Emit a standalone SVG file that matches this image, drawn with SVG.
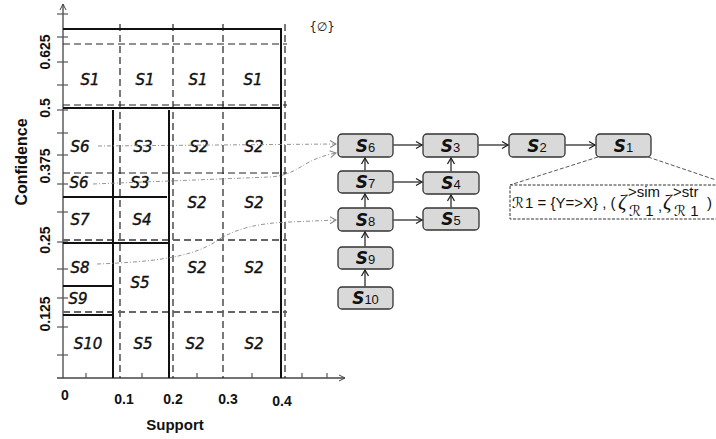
<svg xmlns="http://www.w3.org/2000/svg" width="716" height="439" viewBox="0 0 716 439">
  <style>
    .axis { stroke: #444; stroke-width: 1.3; fill: none; }
    .tick { stroke: #555; stroke-width: 1.2; }
    .solid { stroke: #111; stroke-width: 2; fill: none; }
    .dash { stroke: #222; stroke-width: 1.2; stroke-dasharray: 7 4; fill: none; }
    .dashg { stroke: #666; stroke-width: 1.8; stroke-dasharray: 7 4; fill: none; }
    .lbl { font-family: "Liberation Sans", Arial, sans-serif; font-weight: bold; fill: #111; }
    .cell { font-family: "DejaVu Sans", sans-serif; font-style: oblique; font-size: 15px; fill: #111; stroke: #111; stroke-width: 0.4; text-anchor: middle; }
    .node rect { fill: #d9d9d9; stroke: #333; stroke-width: 1.3; }
    .big { font-family: "DejaVu Sans", sans-serif; font-style: oblique; font-weight: bold; font-size: 17px; fill: #111; }
    .sub { font-family: "Liberation Sans", Arial, sans-serif; font-size: 13px; fill: #111; }
    .edge { stroke: #555; stroke-width: 1.6; fill: none; marker-end: url(#arr); }
    .dot { stroke: #888; stroke-width: 0.9; stroke-dasharray: 4 2 1 2; fill: none; marker-end: url(#arrg); }
    .math { font-family: "Liberation Sans", Arial, sans-serif; font-size: 15px; fill: #111; }
    .scr { font-family: "DejaVu Sans", sans-serif; font-style: oblique; }
    .zeta { font-family: "Liberation Serif", serif; font-style: italic; font-size: 21px; fill: #111; }
  </style>
  <defs>
    <marker id="arr" markerWidth="10" markerHeight="10" refX="8" refY="5" orient="auto" markerUnits="userSpaceOnUse">
      <path d="M2,1.5 L8,5 L2,8.5" fill="none" stroke="#222" stroke-width="1.3"/>
    </marker>
    <marker id="arrg" markerWidth="10" markerHeight="10" refX="8" refY="5" orient="auto" markerUnits="userSpaceOnUse">
      <path d="M2,1.5 L8,5 L2,8.5" fill="none" stroke="#888" stroke-width="1"/>
    </marker>
    <marker id="arrax" markerWidth="10" markerHeight="10" refX="8" refY="5" orient="auto" markerUnits="userSpaceOnUse">
      <path d="M2,2 L8,5 L2,8" fill="none" stroke="#444" stroke-width="1"/>
    </marker>
  </defs>

  <!-- axes -->
  <g id="axes">
    <line class="axis" x1="63" y1="378" x2="63" y2="4" marker-end="url(#arrax)"/>
    <line class="axis" x1="57" y1="378" x2="345" y2="378" marker-end="url(#arrax)"/>
    <g class="tick">
      <line x1="57" y1="14" x2="68" y2="14"/>
      <line x1="57" y1="37" x2="68" y2="37"/>
      <line x1="57" y1="62" x2="68" y2="62"/>
      <line x1="57" y1="85" x2="68" y2="85"/>
      <line x1="57" y1="110" x2="68" y2="110"/>
      <line x1="57" y1="133" x2="68" y2="133"/>
      <line x1="57" y1="155" x2="68" y2="155"/>
      <line x1="57" y1="184" x2="68" y2="184"/>
      <line x1="57" y1="212" x2="68" y2="212"/>
      <line x1="57" y1="242" x2="68" y2="242"/>
      <line x1="57" y1="269" x2="68" y2="269"/>
      <line x1="57" y1="298" x2="68" y2="298"/>
      <line x1="57" y1="327" x2="68" y2="327"/>
      <line x1="57" y1="355" x2="68" y2="355"/>
      <line x1="86" y1="373" x2="86" y2="378"/>
      <line x1="142" y1="373" x2="142" y2="378"/>
      <line x1="197" y1="373" x2="197" y2="378"/>
      <line x1="252" y1="373" x2="252" y2="378"/>
      <line x1="302" y1="373" x2="302" y2="378"/>
      <line x1="327" y1="373" x2="327" y2="378"/>
    </g>
    <text class="lbl" font-size="14" transform="translate(50,52) rotate(-90)" text-anchor="middle">0.625</text>
    <text class="lbl" font-size="14" transform="translate(50,108) rotate(-90)" text-anchor="middle">0.5</text>
    <text class="lbl" font-size="14" transform="translate(50,166) rotate(-90)" text-anchor="middle">0.375</text>
    <text class="lbl" font-size="14" transform="translate(50,240) rotate(-90)" text-anchor="middle">0.25</text>
    <text class="lbl" font-size="14" transform="translate(50,314) rotate(-90)" text-anchor="middle">0.125</text>
    <text class="lbl" font-size="16" transform="translate(27,162) rotate(-90)" text-anchor="middle">Confidence</text>
    <text class="lbl" font-size="14" x="65" y="400" text-anchor="middle">0</text>
    <text class="lbl" font-size="14" x="124" y="404" text-anchor="middle">0.1</text>
    <text class="lbl" font-size="14" x="173" y="404" text-anchor="middle">0.2</text>
    <text class="lbl" font-size="14" x="228" y="404" text-anchor="middle">0.3</text>
    <text class="lbl" font-size="14" x="282" y="406" text-anchor="middle">0.4</text>
    <text class="lbl" font-size="15" x="175" y="430" text-anchor="middle">Support</text>
    <text x="322" y="31" font-family="DejaVu Sans, sans-serif" font-size="12" fill="#222" text-anchor="middle">{∅}</text>
  </g>

  <!-- partition grid -->
  <g id="grid">
    <line class="dash" x1="120" y1="24" x2="120" y2="378"/>
    <line class="dash" x1="173" y1="24" x2="173" y2="378"/>
    <line class="dash" x1="223" y1="24" x2="223" y2="378"/>
    <line class="dash" x1="285" y1="24" x2="285" y2="378"/>
    <line class="dash" x1="63" y1="44" x2="287" y2="44"/>
    <line class="dash" x1="63" y1="105" x2="287" y2="105"/>
    <line class="dash" x1="63" y1="173" x2="287" y2="173"/>
    <line class="dashg" x1="63" y1="240" x2="287" y2="240"/>
    <line class="dashg" x1="63" y1="312" x2="287" y2="312"/>
    <path class="solid" d="M63,29 H281 V378"/>
    <line class="solid" x1="63" y1="108" x2="282" y2="108"/>
    <line class="solid" x1="113" y1="110" x2="113" y2="378"/>
    <line class="solid" x1="169" y1="110" x2="169" y2="378"/>
    <line class="solid" x1="63" y1="197" x2="167" y2="197"/>
    <line class="solid" x1="63" y1="243" x2="170" y2="243"/>
    <line class="solid" x1="63" y1="286" x2="113" y2="286"/>
    <line class="solid" x1="63" y1="315" x2="113" y2="315"/>
  </g>

  <!-- cell labels -->
  <g id="cells">
    <text class="cell" x="90" y="85">S1</text>
    <text class="cell" x="145" y="85">S1</text>
    <text class="cell" x="198" y="85">S1</text>
    <text class="cell" x="253" y="85">S1</text>
    <text class="cell" x="80" y="152">S6</text>
    <text class="cell" x="143" y="152">S3</text>
    <text class="cell" x="199" y="152">S2</text>
    <text class="cell" x="254" y="152">S2</text>
    <text class="cell" x="79" y="188">S6</text>
    <text class="cell" x="140" y="188">S3</text>
    <text class="cell" x="197" y="208">S2</text>
    <text class="cell" x="254" y="208">S2</text>
    <text class="cell" x="80" y="225">S7</text>
    <text class="cell" x="142" y="225">S4</text>
    <text class="cell" x="80" y="273">S8</text>
    <text class="cell" x="140" y="288">S5</text>
    <text class="cell" x="197" y="273">S2</text>
    <text class="cell" x="254" y="273">S2</text>
    <text class="cell" x="78" y="304">S9</text>
    <text class="cell" x="88" y="349">S10</text>
    <text class="cell" x="143" y="349">S5</text>
    <text class="cell" x="195" y="349">S2</text>
    <text class="cell" x="254" y="349">S2</text>
  </g>

  <!-- lattice nodes -->
  <g id="n6" class="node"><rect x="338" y="134" width="55" height="23" rx="4"/><text x="365.5" y="152" text-anchor="middle"><tspan class="big">S</tspan><tspan class="sub">6</tspan></text></g>
  <g id="n3" class="node"><rect x="423" y="134" width="55" height="23" rx="4"/><text x="450.5" y="152" text-anchor="middle"><tspan class="big">S</tspan><tspan class="sub">3</tspan></text></g>
  <g id="n2" class="node"><rect x="509" y="134" width="56" height="23" rx="4"/><text x="537" y="152" text-anchor="middle"><tspan class="big">S</tspan><tspan class="sub">2</tspan></text></g>
  <g id="n1" class="node"><rect x="596" y="134" width="55" height="23" rx="4"/><text x="623.5" y="152" text-anchor="middle"><tspan class="big">S</tspan><tspan class="sub">1</tspan></text></g>
  <g id="n7" class="node"><rect x="338" y="171" width="55" height="22" rx="4"/><text x="365.5" y="188" text-anchor="middle"><tspan class="big">S</tspan><tspan class="sub">7</tspan></text></g>
  <g id="n4" class="node"><rect x="423" y="172" width="56" height="22" rx="4"/><text x="451" y="189" text-anchor="middle"><tspan class="big">S</tspan><tspan class="sub">4</tspan></text></g>
  <g id="n8" class="node"><rect x="338" y="208" width="55" height="23" rx="4"/><text x="365.5" y="226" text-anchor="middle"><tspan class="big">S</tspan><tspan class="sub">8</tspan></text></g>
  <g id="n5" class="node"><rect x="423" y="208" width="56" height="22" rx="4"/><text x="451" y="225" text-anchor="middle"><tspan class="big">S</tspan><tspan class="sub">5</tspan></text></g>
  <g id="n9" class="node"><rect x="338" y="247" width="55" height="22" rx="4"/><text x="365.5" y="264" text-anchor="middle"><tspan class="big">S</tspan><tspan class="sub">9</tspan></text></g>
  <g id="n10" class="node"><rect x="338" y="287" width="55" height="22" rx="4"/><text x="365.5" y="304" text-anchor="middle"><tspan class="big" font-size="16">S</tspan><tspan class="sub">10</tspan></text></g>

  <!-- rule annotation for S1 -->
  <g id="rule">
    <line x1="598" y1="157" x2="510" y2="185" stroke="#444" stroke-width="0.9" stroke-dasharray="4 2"/>
    <line x1="648" y1="157" x2="716" y2="180" stroke="#444" stroke-width="0.9" stroke-dasharray="4 2"/>
    <rect x="510" y="185" width="220" height="34" fill="#fff" stroke="#333" stroke-width="1" stroke-dasharray="3 1.5"/>
    <text class="math" x="512" y="208"><tspan class="scr">ℛ</tspan><tspan x="525">1 = {Y=&gt;X} , (</tspan></text>
    <text class="zeta" x="618" y="209">ζ</text>
    <text class="math" x="628" y="197" font-size="12">&gt;sim</text>
    <text class="math" x="629" y="216" font-size="13"><tspan class="scr">ℛ</tspan> 1</text>
    <text class="math" x="658" y="211">,</text>
    <text class="zeta" x="663" y="209">ζ</text>
    <text class="math" x="673" y="197" font-size="12">&gt;str</text>
    <text class="math" x="674" y="216" font-size="13"><tspan class="scr">ℛ</tspan> 1</text>
    <text class="math" x="707" y="208">)</text>
  </g>

  <!-- connectors -->
  <g id="edges">
    <line class="edge" x1="393" y1="145" x2="422" y2="145"/>
    <line class="edge" x1="478" y1="145" x2="508" y2="145"/>
    <line class="edge" x1="565" y1="145" x2="595" y2="145"/>
    <line class="edge" x1="393" y1="182" x2="422" y2="182"/>
    <line class="edge" x1="393" y1="220" x2="422" y2="220"/>
    <line class="edge" x1="365" y1="171" x2="365" y2="158"/>
    <line class="edge" x1="365" y1="208" x2="365" y2="194"/>
    <line class="edge" x1="365" y1="247" x2="365" y2="232"/>
    <line class="edge" x1="365" y1="287" x2="365" y2="270"/>
    <line class="edge" x1="451" y1="172" x2="451" y2="158"/>
    <line class="edge" x1="451" y1="208" x2="451" y2="195"/>
    <path class="dot" d="M98,146 L336,144"/>
    <path class="dot" d="M93,184 L270,177 C300,175 300,160 336,153"/>
    <path class="dot" d="M97,264 C150,262 190,258 215,242 C235,228 260,223 290,222 L336,220"/>
  </g>
</svg>
